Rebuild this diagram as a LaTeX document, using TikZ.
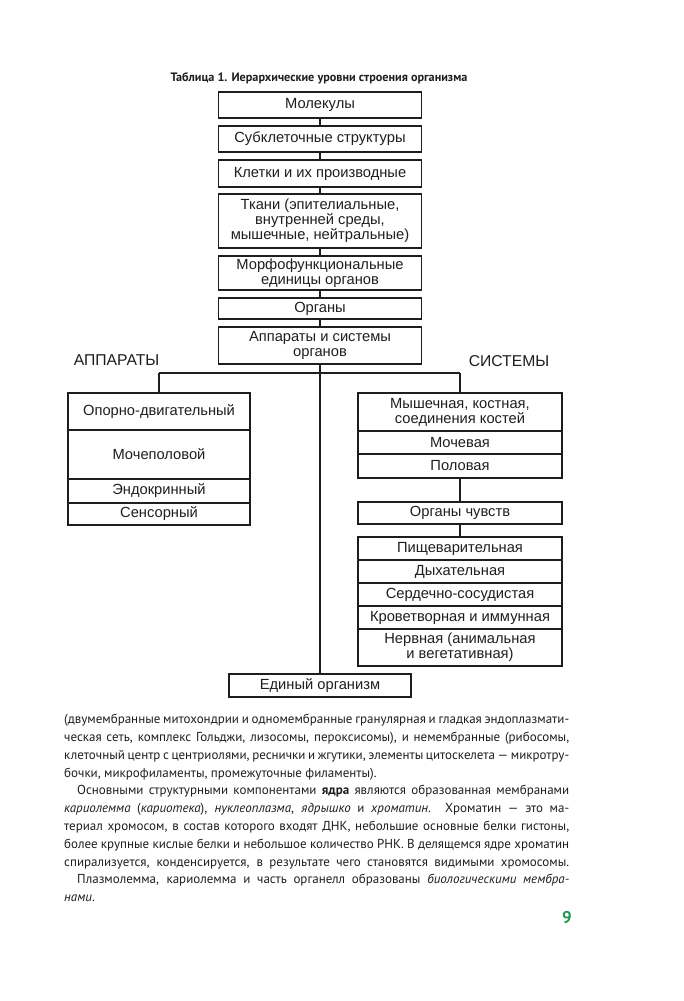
\documentclass[tikz,border=0pt]{standalone}
\usepackage{fontspec}
\setmainfont{Liberation Sans}
\newfontfamily\bodyfont{PT Sans}
\definecolor{ink}{RGB}{30,30,30}
\definecolor{pagegreen}{RGB}{30,150,80}
\newcommand{\jline}[2]{\makebox[#1][s]{#2}}
\begin{document}
\begin{tikzpicture}[x=1pt,y=-1pt,
  cell/.style={draw=ink, line width=1.6pt, inner sep=0pt, align=center, text=ink,
    font=\fontsize{14.7}{15}\selectfont},
  chainbox/.style={cell, minimum width=203pt},
  leftbox/.style={cell, minimum width=182pt},
  rightbox/.style={cell, minimum width=204pt},
  link/.style={draw=ink, line width=1.6pt},
  heading/.style={text=ink, inner sep=0pt, font=\fontsize{15.7}{16}\selectfont}]
\useasboundingbox (0,0) rectangle (683,1001);

\node[inner sep=0pt, text=ink, font=\bodyfont\bfseries\fontsize{12.2}{13}\selectfont] (title) at (319,78)
  {Таблица 1. Иерархические уровни строения организма};

\node[chainbox, minimum height=26pt] (n1) at (320,105) {Молекулы};
\node[chainbox, minimum height=26pt] (n2) at (320,139) {Субклеточные структуры};
\node[chainbox, minimum height=27pt] (n3) at (320,173.5) {Клетки и их производные};
\node[chainbox, minimum height=54pt] (n4) at (320,221) {Ткани (эпителиальные,\\внутренней среды,\\мышечные, нейтральные)};
\node[chainbox, minimum height=34pt] (n5) at (320,273) {Морфофункциональные\\единицы органов};
\node[chainbox, minimum height=21pt] (n6) at (320,308.5) {Органы};
\node[chainbox, minimum height=37pt] (n7) at (320,345.5) {Аппараты и системы\\органов};

\draw[link] (n1.south) -- (n2.north);
\draw[link] (n2.south) -- (n3.north);
\draw[link] (n3.south) -- (n4.north);
\draw[link] (n4.south) -- (n5.north);
\draw[link] (n5.south) -- (n6.north);
\draw[link] (n6.south) -- (n7.north);

\node[heading] (app) at (116.5,360) {АППАРАТЫ};
\node[heading] (sys) at (509,361) {СИСТЕМЫ};

\node[leftbox, minimum height=37pt] (l1) at (159,411.5) {Опорно-двигательный};
\node[leftbox, minimum height=49pt] (l2) at (159,454.5) {Мочеполовой};
\node[leftbox, minimum height=24pt] (l3) at (159,491) {Эндокринный};
\node[leftbox, minimum height=22pt] (l4) at (159,514) {Сенсорный};

\node[rightbox, minimum height=38pt] (r1) at (460,412) {Мышечная, костная,\\соединения костей};
\node[rightbox, minimum height=23pt] (r2) at (460,442.5) {Мочевая};
\node[rightbox, minimum height=24pt] (r3) at (460,466) {Половая};
\node[rightbox, minimum height=22pt] (oc) at (460,513) {Органы чувств};
\node[rightbox, minimum height=23pt] (p1) at (460,548.5) {Пищеварительная};
\node[rightbox, minimum height=23pt] (p2) at (460,571.5) {Дыхательная};
\node[rightbox, minimum height=23pt] (p3) at (460,594.5) {Сердечно-сосудистая};
\node[rightbox, minimum height=23pt] (p4) at (460,617.5) {Кроветворная и иммунная};
\node[rightbox, minimum height=37pt] (p5) at (460,647.5) {Нервная (анимальная\\и вегетативная)};

\node[leftbox, minimum height=23pt] (org) at (320,685.5) {Единый организм};

\coordinate (jL) at (l1.north |- 0,373);
\coordinate (jR) at (r1.north |- 0,373);
\draw[link] (n7.south) -- (org.north);
\draw[link] (jL) -- (jR);
\draw[link] (jL) -- (l1.north);
\draw[link] (jR) -- (r1.north);
\draw[link] (r3.south) -- (oc.north);
\draw[link] (oc.south) -- (p1.north);

\node[anchor=north west, inner sep=0pt, align=left, text=ink,
  font=\bodyfont\fontsize{13}{17.8}\selectfont] (body) at (64,714) {%
\jline{505pt}{(двумембранные митохондрии и одномембранные гранулярная и гладкая эндоплазмати-}\\
\jline{505pt}{ческая сеть, комплекс Гольджи, лизосомы, пероксисомы), и немембранные (рибосомы,}\\
\jline{505pt}{клеточный центр с центриолями, реснички и жгутики, элементы цитоскелета — микротру-}\\
бочки, микрофиламенты, промежуточные филаменты).\\
\hspace*{13pt}\jline{492pt}{Основными структурными компонентами \textbf{ядра} являются образованная мембранами}\\
\jline{505pt}{\textit{кариолемма} (\textit{кариотека}), \textit{нуклеоплазма}, \textit{ядрышко} и \textit{хроматин}. Хроматин — это ма-}\\
\jline{505pt}{териал хромосом, в состав которого входят ДНК, небольшие основные белки гистоны,}\\
\jline{505pt}{более крупные кислые белки и небольшое количество РНК. В делящемся ядре хроматин}\\
\jline{505pt}{спирализуется, конденсируется, в результате чего становятся видимыми хромосомы.}\\
\hspace*{13pt}\jline{492pt}{Плазмолемма, кариолемма и часть органелл образованы \textit{биологическими мембра-}}\\
\textit{нами}.};

\node[inner sep=0pt, text=pagegreen, font=\bodyfont\bfseries\fontsize{17}{18}\selectfont] (pnum) at (567,918) {9};
\end{tikzpicture}
\end{document}
